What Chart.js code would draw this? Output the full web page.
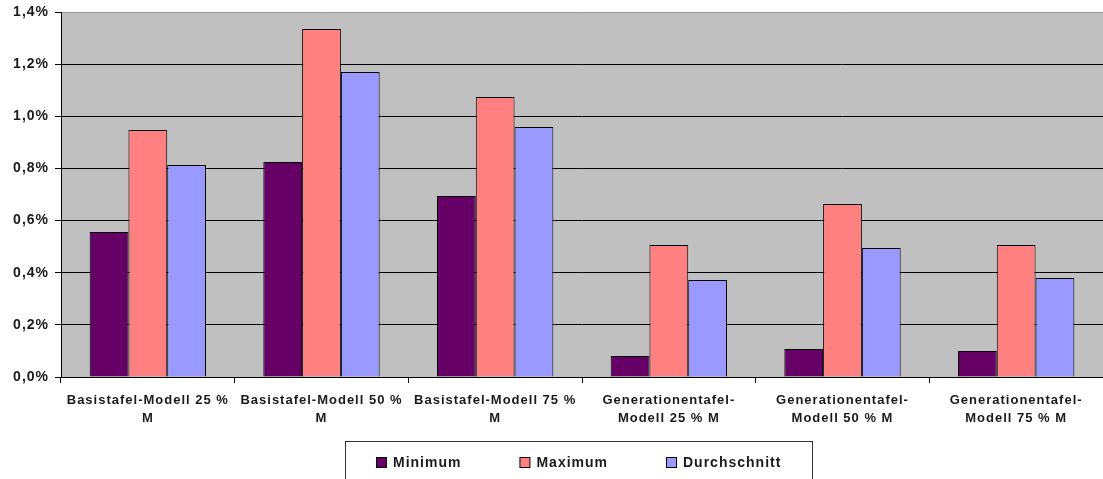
<!DOCTYPE html>
<html>
<head>
<meta charset="utf-8">
<script src="https://cdn.jsdelivr.net/npm/chart.js@4/dist/chart.umd.min.js"></script>
<style>
  html, body { margin: 0; padding: 0; background: #fff; }
  canvas { display: block; }
</style>
</head>
<body>
<canvas id="myChart" width="1103" height="479"></canvas>
<script>
// categories (two-line labels like the original)
var categories = [
  ["Basistafel-Modell 25 %", "M"],
  ["Basistafel-Modell 50 %", "M"],
  ["Basistafel-Modell 75 %", "M"],
  ["Generationentafel-", "Modell 25 % M"],
  ["Generationentafel-", "Modell 50 % M"],
  ["Generationentafel-", "Modell 75 % M"]
];
var seriesNames = ["Minimum", "Maximum", "Durchschnitt"];
var barColors = ["#660066", "#FF8080", "#9999FF"];

// values in percent
var minValues = [0.556, 0.825, 0.694, 0.081, 0.107, 0.100];
var maxValues = [0.947, 1.335, 1.074, 0.506, 0.664, 0.506];
var avgValues = [0.813, 1.170, 0.959, 0.372, 0.495, 0.380];

var yMin = 0, yMax = 1.4, yStep = 0.2;

var FONT = "'Liberation Sans', Arial, sans-serif";
var TEXT_COLOR = "#1a1a1a";

// excel-ish letter spacing for all canvas text
var spacingPlugin = {
  id: "spacing",
  beforeUpdate: function(chart) { chart.ctx.letterSpacing = "1px"; },
  beforeLayout: function(chart) { chart.ctx.letterSpacing = "1px"; },
  beforeDraw: function(chart) { chart.ctx.letterSpacing = "1px"; }
};

// gray plot area
var plotBg = {
  id: "plotBg",
  beforeDraw: function(chart) {
    var a = chart.chartArea, ctx = chart.ctx;
    ctx.save();
    ctx.fillStyle = "#C0C0C0";
    ctx.fillRect(a.left, a.top, a.right - a.left, a.bottom - a.top);
    ctx.restore();
  }
};

// boxed legend at the bottom
var boxLegend = {
  id: "boxLegend",
  afterDraw: function(chart) {
    var ctx = chart.ctx;
    ctx.save();
    ctx.letterSpacing = "1px";
    ctx.strokeStyle = "#333";
    ctx.lineWidth = 1;
    ctx.strokeRect(345.5, 441.5, 467, 60);
    ctx.font = "bold 14px " + FONT;
    ctx.textBaseline = "middle";
    var sq = 10, gap = 7, between = 58;
    var ds = chart.data.datasets;
    var total = 0;
    ds.forEach(function(d, i) {
      total += sq + gap + ctx.measureText(d.label).width;
      if (i > 0) total += between;
    });
    var x = Math.round(579 - total / 2), y = 462;
    ds.forEach(function(d) {
      ctx.fillStyle = d.backgroundColor;
      ctx.fillRect(x + 0.5, y - sq / 2 + 0.5, sq, sq);
      ctx.strokeStyle = "#000";
      ctx.strokeRect(x + 0.5, y - sq / 2 + 0.5, sq, sq);
      ctx.fillStyle = TEXT_COLOR;
      ctx.fillText(d.label, x + sq + gap, y + 1);
      x += sq + gap + ctx.measureText(d.label).width + between;
    });
    ctx.restore();
  }
};

new Chart("myChart", {
  type: "bar",
  data: {
    labels: categories,
    datasets: [
      { label: seriesNames[0], data: minValues, backgroundColor: barColors[0] },
      { label: seriesNames[1], data: maxValues, backgroundColor: barColors[1] },
      { label: seriesNames[2], data: avgValues, backgroundColor: barColors[2] }
    ]
  },
  options: {
    responsive: false,
    animation: false,
    layout: { padding: { top: 12, right: -4, bottom: 0, left: 0 } },
    datasets: {
      bar: {
        borderColor: "#000",
        borderWidth: 1,
        categoryPercentage: 0.67,
        barPercentage: 1
      }
    },
    plugins: {
      legend: { display: false },
      tooltip: { enabled: false }
    },
    scales: {
      x: {
        afterFit: function(scale) { scale.height = 102; },
        grid: {
          offset: true,
          drawOnChartArea: false,
          drawTicks: true,
          tickLength: 6,
          color: "#000"
        },
        border: { color: "#000", width: 1 },
        ticks: {
          maxRotation: 0,
          autoSkip: false,
          padding: 8,
          color: TEXT_COLOR,
          font: { family: FONT, size: 13, weight: "bold", lineHeight: 1.4 }
        }
      },
      y: {
        min: yMin,
        max: yMax,
        afterFit: function(scale) {
          scale.width = 61;
          scale.paddingTop = 0;
          scale.paddingBottom = 0;
        },
        grid: {
          color: function(c) { return c.tick && c.tick.value >= yMax ? "#999" : "#000"; },
          tickColor: "#000",
          tickLength: 6,
          lineWidth: 1
        },
        border: { color: "#000", width: 1 },
        ticks: {
          stepSize: yStep,
          padding: 6,
          color: TEXT_COLOR,
          font: { family: FONT, size: 14, weight: "bold" },
          callback: function(v) { return v.toFixed(1).replace(".", ",") + "%"; }
        }
      }
    }
  },
  plugins: [spacingPlugin, plotBg, boxLegend]
});
</script>
</body>
</html>
